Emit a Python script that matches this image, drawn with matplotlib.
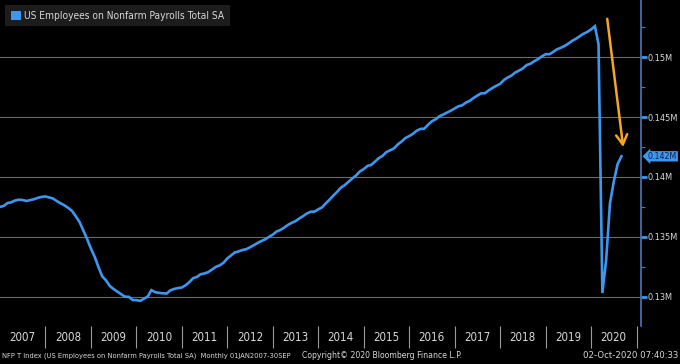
#!/usr/bin/env python3

import numpy as np
import pandas as pd
import matplotlib.pyplot as plt
import matplotlib.dates as mdates
from matplotlib import font_manager as fm
from matplotlib.patches import Patch
from matplotlib.ticker import FixedLocator, FuncFormatter

# US employees on nonfarm payrolls, thousands, monthly Jan 2007 - Sep 2020
nfp_2007 = [137497, 137582, 137812, 137880, 138024, 138099, 138069, 137990, 138059, 138135, 138250, 138332]
nfp_2008 = [138365, 138279, 138199, 137985, 137803, 137631, 137421, 137162, 136710, 136236, 135511, 134809]
nfp_2009 = [133999, 133299, 132499, 131701, 131367, 130893, 130642, 130419, 130201, 130000, 129989, 129720]
nfp_2010 = [129705, 129655, 129820, 130006, 130548, 130377, 130317, 130283, 130264, 130529, 130649, 130719]
nfp_2011 = [130765, 130959, 131205, 131540, 131643, 131871, 131940, 132047, 132274, 132488, 132618, 132825]
nfp_2012 = [133190, 133456, 133694, 133781, 133896, 133963, 134122, 134298, 134487, 134645, 134791, 134994]
nfp_2013 = [135186, 135451, 135558, 135761, 135987, 136163, 136299, 136530, 136728, 136944, 137093, 137101]
nfp_2014 = [137293, 137465, 137781, 138099, 138430, 138750, 139098, 139311, 139604, 139867, 140123, 140459]
nfp_2015 = [140654, 140920, 140994, 141274, 141562, 141755, 142068, 142227, 142377, 142708, 142954, 143243]
nfp_2016 = [143408, 143603, 143854, 144007, 144025, 144354, 144638, 144815, 145068, 145210, 145374, 145530]
nfp_2017 = [145716, 145904, 145971, 146208, 146352, 146591, 146788, 146974, 146986, 147226, 147433, 147609]
nfp_2018 = [147767, 148097, 148293, 148453, 148711, 148875, 149052, 149336, 149444, 149652, 149833, 150057]
nfp_2019 = [150242, 150243, 150420, 150641, 150769, 150924, 151118, 151351, 151531, 151742, 151950, 152097]
nfp_2020 = [152311, 152580, 151090, 130303, 133028, 137809, 139570, 141059, 141720]

years = list(range(2007, 2021))
ytick_vals = [0.13, 0.135, 0.14, 0.145, 0.15]
series_name = 'US Employees on Nonfarm Payrolls Total SA'
footer_left = 'NFP T Index (US Employees on Nonfarm Payrolls Total SA)  Monthly 01JAN2007-30SEP'
footer_mid = 'Copyright\u00a9 2020 Bloomberg Finance L.P.'
footer_right = '02-Oct-2020 07:40:33'

vals = np.array(nfp_2007 + nfp_2008 + nfp_2009 + nfp_2010 + nfp_2011 + nfp_2012 + nfp_2013 +
                nfp_2014 + nfp_2015 + nfp_2016 + nfp_2017 + nfp_2018 + nfp_2019 + nfp_2020) / 1e6
dates = pd.date_range('2007-01-01', periods=len(vals), freq='MS')

BLUE = '#3d97ef'
GRID = '#6a6a6a'
TXT = '#d8d8d8'

# look for a narrow face, terminal-like
narrow = [f for f in fm.fontManager.ttflist
          if ('Narrow' in f.name or 'Condensed' in f.name or f.stretch in ('condensed', 'semi-condensed'))
          and f.weight in (400, 'normal', 'regular') and f.style == 'normal']
narrow.sort(key=lambda f: (0 if 'DejaVu' in f.name else 1 if 'Liberation' in f.name else 2))
if narrow:
    FP = dict(fname=narrow[0].fname)
    scale = 1.0
else:
    FP = dict(family='DejaVu Sans')
    scale = 0.85


def fp(size):
    return fm.FontProperties(size=size * scale, **FP)


fig = plt.figure(figsize=(6.8, 3.64), dpi=100, facecolor='black')
ax = fig.add_axes([0.0, 0.105, 0.9426, 0.895], facecolor='black')

ax.plot(dates, vals, color=BLUE, lw=1.9, solid_joinstyle='miter')

ax.set_xlim(pd.Timestamp('2007-01-01'), pd.Timestamp('2021-02-05'))
ax.set_ylim(0.12757, 0.15477)

# y axis on the right
ax.yaxis.tick_right()
ax.yaxis.set_major_locator(FixedLocator(ytick_vals))
ax.yaxis.set_minor_locator(FixedLocator([v + 0.0025 for v in [0.125] + ytick_vals]))
ax.yaxis.set_major_formatter(FuncFormatter(lambda v, p: f'{v:g}M'))
ax.tick_params(axis='y', which='major', direction='out', length=4, width=2,
               color=BLUE, labelcolor=TXT, pad=0.5)
ax.tick_params(axis='y', which='minor', direction='out', length=3, width=0.8, color='#4a78b8')
for lab in ax.get_yticklabels():
    lab.set_fontproperties(fp(6.6))
ax.grid(axis='y', which='major', color=GRID, lw=0.8)

# x axis: separators at year boundaries, labels mid-year
ax.xaxis.set_major_locator(FixedLocator([mdates.date2num(pd.Timestamp(f'{y}-01-01')) for y in years[1:] + [2021]]))
ax.xaxis.set_minor_locator(FixedLocator([mdates.date2num(pd.Timestamp(f'{y}-07-01')) for y in years]))
ax.xaxis.set_major_formatter(FuncFormatter(lambda v, p: ''))
ax.xaxis.set_minor_formatter(FuncFormatter(lambda v, p: str(mdates.num2date(v).year)))
ax.tick_params(axis='x', which='major', direction='out', length=16, width=0.8, color='#9a9a9a')
ax.tick_params(axis='x', which='minor', length=0, labelcolor=TXT, pad=4)
for lab in ax.get_xticklabels(minor=True):
    lab.set_fontproperties(fp(8.3))

for s in ['top', 'left', 'bottom']:
    ax.spines[s].set_visible(False)
ax.spines['right'].set_color('#4a78b8')
ax.spines['right'].set_linewidth(1.2)

# legend box
leg = ax.legend(handles=[Patch(facecolor=BLUE, edgecolor='none', label=series_name)],
                loc='upper left', bbox_to_anchor=(0.0, 1.0), frameon=True, fancybox=False,
                facecolor='#1c1c1c', edgecolor='none', framealpha=1, borderpad=0.55,
                handlelength=1.0, handleheight=1.0, handletextpad=0.35,
                prop=fp(7.3))
for t in leg.get_texts():
    t.set_color(TXT)

# last value tag
last = vals[-1]
ax.annotate(f'{last:.3f}M', xy=(1.0, last), xycoords=('axes fraction', 'data'),
            xytext=(5, 0), textcoords='offset points', ha='left', va='center',
            fontproperties=fp(6.3), color='#0c2246',
            bbox=dict(boxstyle='larrow,pad=0.08', facecolor=BLUE, edgecolor='none'),
            annotation_clip=False)

# orange arrow
arrow_from = (pd.Timestamp('2020-05-10'), 0.1532)
arrow_to = (pd.Timestamp('2020-09-15'), 0.1425)
ax.annotate('', xy=arrow_to, xytext=arrow_from,
            arrowprops=dict(arrowstyle='->,head_length=0.7,head_width=0.4',
                            color='#f5a623', lw=1.8, shrinkA=0, shrinkB=0))

fig.text(0.003, 0.022, footer_left, color=TXT, fontproperties=fp(5.4), va='center')
fig.text(0.444, 0.022, footer_mid, color=TXT, fontproperties=fp(6.2), va='center')
fig.text(0.997, 0.022, footer_right, color=TXT, fontproperties=fp(6.8), va='center', ha='right')

fig.savefig('out.png', dpi=100, facecolor='black')
